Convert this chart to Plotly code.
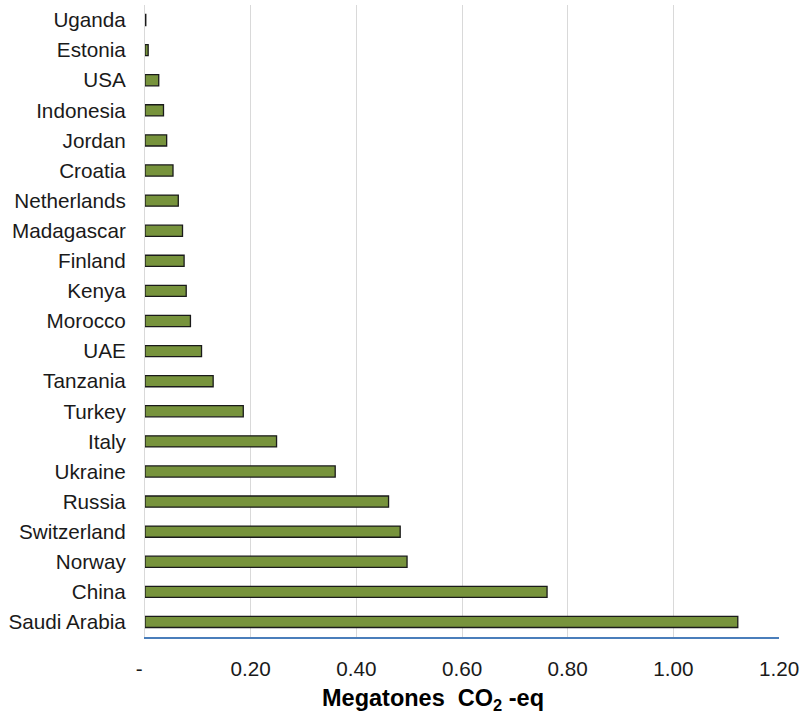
import plotly.graph_objects as go

# Emissions per country, listed top to bottom (Megatones CO2-eq)
countries = [
    "Uganda", "Estonia", "USA", "Indonesia", "Jordan", "Croatia", "Netherlands",
    "Madagascar", "Finland", "Kenya", "Morocco", "UAE", "Tanzania", "Turkey",
    "Italy", "Ukraine", "Russia", "Switzerland", "Norway", "China", "Saudi Arabia",
]
emissions = [
    0.0015, 0.006, 0.026, 0.035, 0.041, 0.053, 0.063,
    0.071, 0.074, 0.078, 0.086, 0.107, 0.129, 0.186,
    0.249, 0.360, 0.461, 0.483, 0.496, 0.761, 1.122,
]

tick_values = [0, 0.2, 0.4, 0.6, 0.8, 1.0, 1.2]
tick_labels = ["-\u00a0\u00a0", "0.20", "0.40", "0.60", "0.80", "1.00", "1.20"]

font_family = "Liberation Sans, Arial, sans-serif"
label_size = 20.7

fig = go.Figure(
    go.Bar(
        x=emissions,
        y=countries,
        orientation="h",
        marker=dict(color="#77933c", line=dict(color="#1a1a1a", width=1.3)),
        hoverinfo="x+y",
    )
)

fig.update_layout(
    width=804,
    height=716,
    margin=dict(l=145, r=23, t=5, b=79),
    paper_bgcolor="white",
    plot_bgcolor="white",
    bargap=0.63,
    showlegend=False,
    font=dict(family=font_family, size=label_size, color="#1a1a1a"),
)

fig.update_xaxes(
    range=[0, 1.2],
    tickvals=tick_values,
    ticktext=tick_labels,
    showgrid=True,
    gridcolor="#d9d9d9",
    gridwidth=1,
    zeroline=False,
    showline=True,
    linecolor="#4a7ebb",
    linewidth=2,
    ticks="",
    ticklabelstandoff=12,
    tickfont=dict(size=label_size, color="#1a1a1a"),
)

fig.update_yaxes(
    autorange="reversed",
    showgrid=False,
    showline=True,
    linecolor="#d9d9d9",
    linewidth=1,
    ticks="",
    ticklabelstandoff=14,
    tickfont=dict(size=label_size, color="#1a1a1a"),
)

# Axis title, placed as an annotation below the tick labels
fig.add_annotation(
    text="<b>Megatones\u00a0 CO<sub>2</sub> -eq</b>",
    xref="paper",
    yref="paper",
    x=0.454,
    y=0,
    xanchor="center",
    yanchor="middle",
    yshift=-62,
    showarrow=False,
    font=dict(family=font_family, size=23.5, color="#000000"),
)

fig.write_html("out.html")
